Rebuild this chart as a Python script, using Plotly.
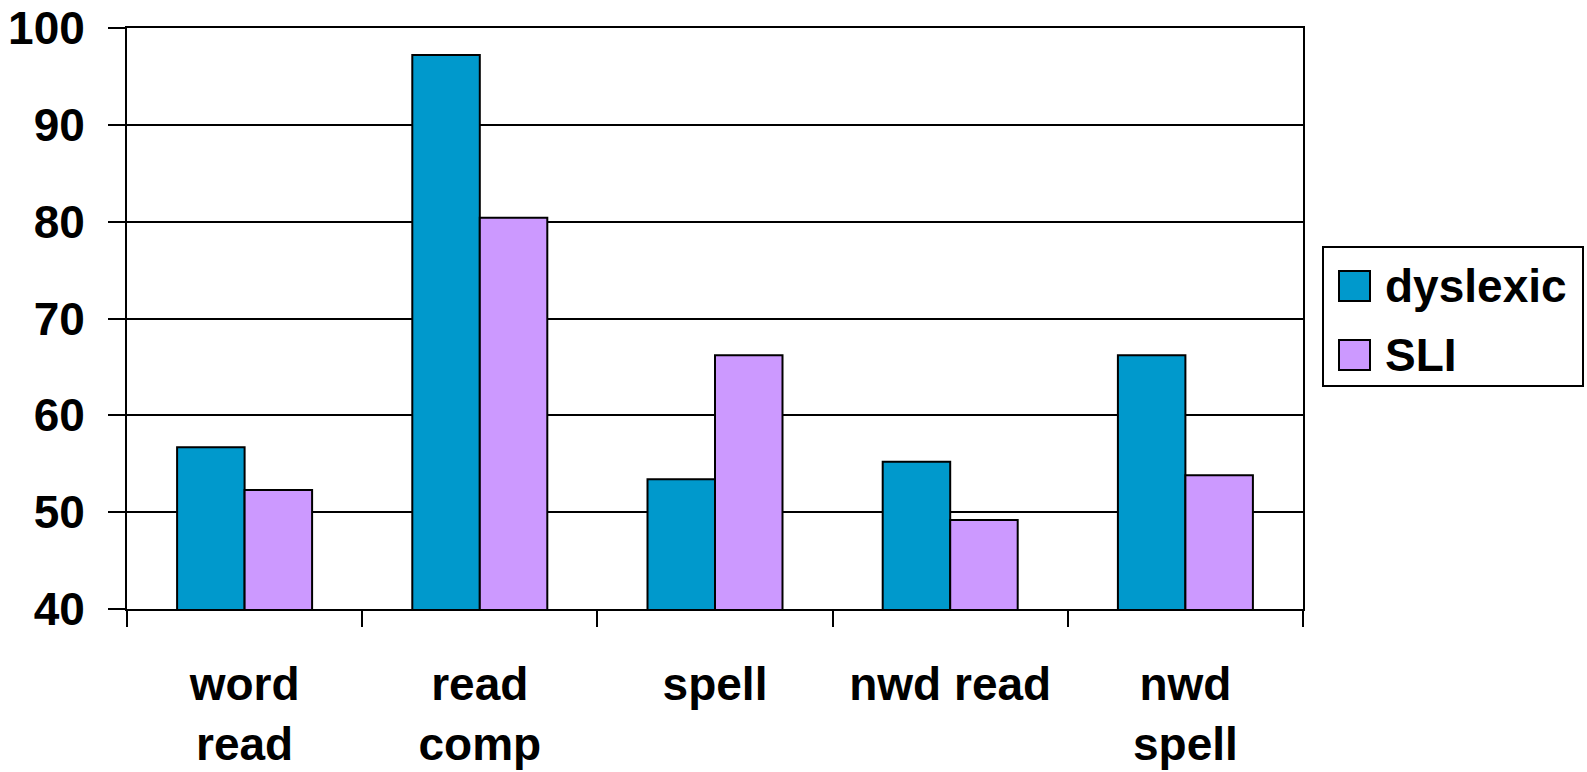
import plotly.graph_objects as go

# Reading / spelling scores by task for the two groups
categories = ["word<br>read", "read<br>comp", "spell", "nwd read", "nwd<br>spell"]
series_names = ["dyslexic", "SLI"]
dyslexic = [56.7, 97.2, 53.4, 55.2, 66.2]
sli = [52.3, 80.4, 66.2, 49.2, 53.8]
colors = ["#0099CC", "#CC99FF"]
y_ticks = [40, 50, 60, 70, 80, 90, 100]

W, H = 1587, 772
L, R, T, B = 127, 1303, 28, 609  # plot area in pixels

FONT = "Liberation Sans, Arial, sans-serif"

fig = go.Figure()
for name, vals, col in zip(series_names, [dyslexic, sli], colors):
    fig.add_bar(
        x=categories, y=vals, name=name,
        marker=dict(color=col, line=dict(color="black", width=2)),
        showlegend=False,
    )


def px(x):
    return (x - L) / (R - L)


def py(y):
    return (B - y) / (B - T)


# Legend drawn as shapes so the swatches can be large
shapes = [
    dict(type="rect", xref="paper", yref="paper",
         x0=px(1323), x1=px(1583), y0=py(386), y1=py(247),
         line=dict(color="black", width=2), fillcolor="white"),
]
annotations = []
rows = [(271, 301), (340, 370)]
for (top, bot), name, col in zip(rows, series_names, colors):
    shapes.append(dict(type="rect", xref="paper", yref="paper",
                       x0=px(1339), x1=px(1370), y0=py(bot), y1=py(top),
                       line=dict(color="black", width=2), fillcolor=col))
    annotations.append(dict(xref="paper", yref="paper", x=px(1383), y=py((top + bot) / 2),
                            text=name, showarrow=False, xanchor="left", yanchor="middle",
                            font=dict(family=FONT, size=46, color="black", weight="bold")))

fig.update_layout(
    width=W, height=H,
    margin=dict(l=L, r=W - R, t=T, b=H - B, pad=0, autoexpand=False),
    paper_bgcolor="white", plot_bgcolor="white",
    barmode="group", bargap=0.426, bargroupgap=0,
    shapes=shapes, annotations=annotations,
    font=dict(family=FONT, color="black"),
)
fig.update_xaxes(
    type="category", tickson="boundaries", ticks="outside", ticklen=16,
    tickwidth=2, tickcolor="black",
    showline=True, linecolor="black", linewidth=2, mirror=True,
    showgrid=False, automargin=False,
    tickfont=dict(family=FONT, size=46, color="black", weight="bold"),
    ticklabelstandoff=34,
)
fig.update_yaxes(
    range=[40, 100], tickvals=y_ticks,
    ticks="outside", ticklen=17, tickwidth=2, tickcolor="black",
    showline=True, linecolor="black", linewidth=2, mirror=True,
    showgrid=True, gridcolor="black", gridwidth=2, zeroline=False,
    automargin=False,
    tickfont=dict(family=FONT, size=46, color="black", weight="bold"),
    ticklabelstandoff=14,
)

fig.write_html("out.html")
